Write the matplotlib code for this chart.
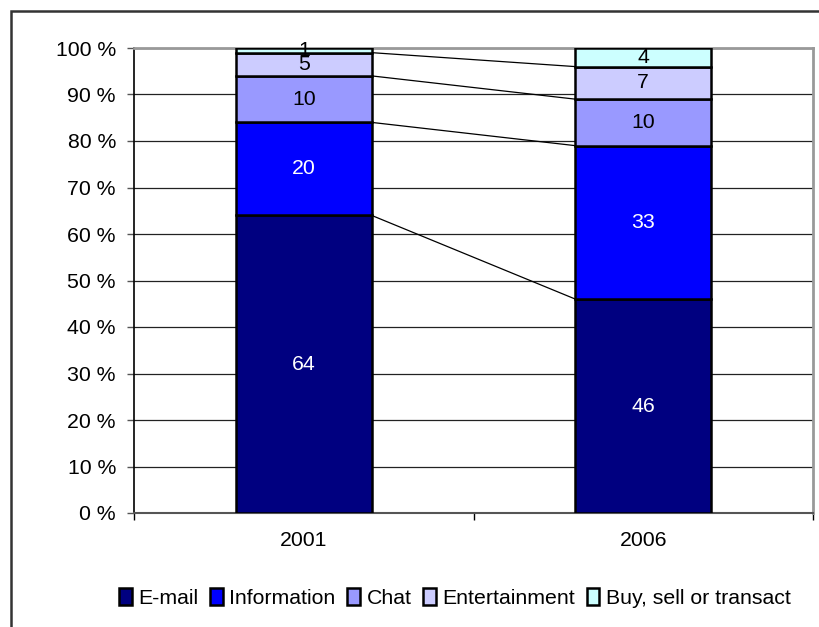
import matplotlib
matplotlib.use("Agg")
import matplotlib.pyplot as plt
from matplotlib.patches import Rectangle
from matplotlib.ticker import MultipleLocator, FuncFormatter
import numpy as np

plt.rcParams['font.family'] = ['Liberation Sans', 'DejaVu Sans']

years = ["2001", "2006"]
activities = ["E-mail", "Information", "Chat", "Entertainment", "Buy, sell or transact"]
email = [64, 46]
information = [20, 33]
chat = [10, 10]
entertainment = [5, 7]
transact = [1, 4]
series = [email, information, chat, entertainment, transact]
colors = ["#000080", "#0000FF", "#9999FF", "#CCCCFF", "#CCFFFF"]
label_colors = ["white", "white", "black", "black", "black"]

fs = 15.3
fig = plt.figure(figsize=(8.2, 6.27), dpi=100)
ax = fig.add_axes([134 / 820, 1 - 513 / 627, 679 / 820, 465 / 627])

x = np.arange(len(years))
width = 0.4
bottom = np.zeros(len(years))
for vals, col, lc, name in zip(series, colors, label_colors, activities):
    vals = np.array(vals, dtype=float)
    ax.bar(x, vals, width, bottom=bottom, color=col, edgecolor="black",
           linewidth=1.8, label=name, zorder=3)
    for xi, v, b in zip(x, vals, bottom):
        ax.text(xi, b + v / 2, f"{int(v)}", ha="center", va="center",
                color=lc, fontsize=fs, zorder=5)
    bottom = bottom + vals

# series lines joining the segment boundaries of the two bars
cum = np.cumsum(np.array(series[:-1]), axis=0)
for level in cum:
    ax.plot([x[0] + width / 2, x[1] - width / 2], [level[0], level[1]],
            color="black", linewidth=0.9, zorder=2)

ax.set_xlim(-0.5, 1.5)
ax.set_ylim(0, 100)
ax.yaxis.set_major_locator(MultipleLocator(10))
ax.yaxis.set_major_formatter(FuncFormatter(lambda v, p: f"{int(v)} %"))
ax.grid(axis="y", color="#222222", linewidth=0.9, zorder=1)
ax.set_axisbelow(True)

ax.set_xticks(x)
ax.set_xticklabels(years)
ax.set_xticks([-0.5, 0.5, 1.5], minor=True)
ax.tick_params(axis="x", which="major", length=0, pad=13, labelsize=fs)
ax.tick_params(axis="x", which="minor", length=5, width=1, color="black")
ax.tick_params(axis="y", length=5, width=1, pad=8, labelsize=fs, color="#555555")

ax.spines["left"].set_color("black")
ax.spines["left"].set_linewidth(1.2)
ax.spines["bottom"].set_color("#555555")
ax.spines["bottom"].set_linewidth(1.5)
ax.spines["top"].set_color("#999999")
ax.spines["top"].set_linewidth(2)
ax.spines["right"].set_color("#999999")
ax.spines["right"].set_linewidth(2)

leg = fig.legend(loc="center", bbox_to_anchor=(455 / 820, 1 - 598 / 627), ncol=5,
                 frameon=False, fontsize=fs, handlelength=0.6, handleheight=0.8,
                 handletextpad=0.3, columnspacing=0.55, borderaxespad=0)

# chart area border
fig.patches.append(Rectangle((11 / 820, -0.05), 1.0, 1 - 11 / 627 + 0.05,
                             transform=fig.transFigure, fill=False,
                             edgecolor="#333333", linewidth=1.8))

fig.savefig("out.png", dpi=100)
